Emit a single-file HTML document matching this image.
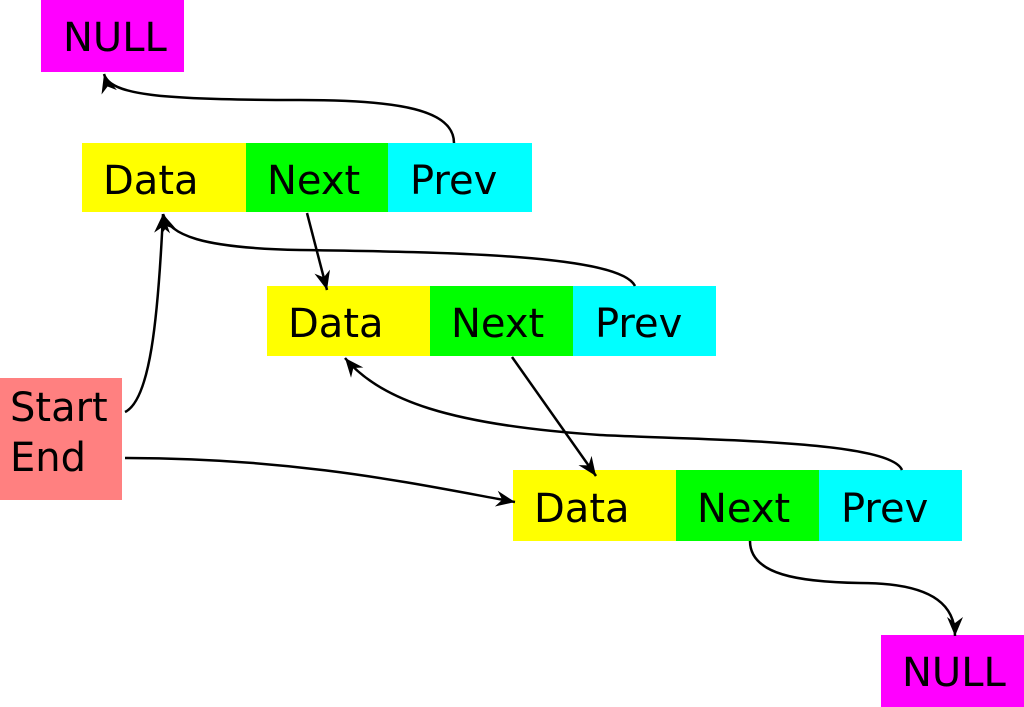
<!DOCTYPE html>
<html><head><meta charset="utf-8"><style>
body{margin:0;width:1024px;height:707px;background:#fff;overflow:hidden;position:relative;font-family:"DejaVu Sans","Liberation Sans",sans-serif}
.b{position:absolute;font-size:40px;line-height:1;color:#000;box-sizing:border-box;white-space:nowrap}
</style></head><body>
<div class="b" style="left:41px;top:0;width:143px;height:72px;background:#f0f;padding:18px 0 0 22px">NULL</div>
<div class="b" style="left:82px;top:143px;width:164px;height:69px;background:#ff0;padding:18px 0 0 21px">Data</div>
<div class="b" style="left:246px;top:143px;width:142px;height:69px;background:#0f0;padding:18px 0 0 21px">Next</div>
<div class="b" style="left:388px;top:143px;width:144px;height:69px;background:#0ff;padding:18px 0 0 22px">Prev</div>
<div class="b" style="left:267px;top:286px;width:163px;height:70px;background:#ff0;padding:18px 0 0 21px">Data</div>
<div class="b" style="left:430px;top:286px;width:143px;height:70px;background:#0f0;padding:18px 0 0 21px">Next</div>
<div class="b" style="left:573px;top:286px;width:143px;height:70px;background:#0ff;padding:18px 0 0 22px">Prev</div>
<div class="b" style="left:513px;top:470px;width:163px;height:71px;background:#ff0;padding:19px 0 0 21px">Data</div>
<div class="b" style="left:676px;top:470px;width:143px;height:71px;background:#0f0;padding:19px 0 0 21px">Next</div>
<div class="b" style="left:819px;top:470px;width:143px;height:71px;background:#0ff;padding:19px 0 0 22px">Prev</div>
<div class="b" style="left:0;top:378px;width:122px;height:122px;background:#ff8080;padding:5px 0 0 10px;line-height:50px">Start<br>End</div>
<div class="b" style="left:881px;top:635px;width:143px;height:72px;background:#f0f;padding:18px 0 0 21px">NULL</div>
<svg style="position:absolute;left:0;top:0" width="1024" height="707">
<defs><marker id="a" viewBox="-20 -10 22 20" refX="0" refY="0" markerWidth="22" markerHeight="20" orient="auto" markerUnits="userSpaceOnUse"><path d="M0,0 L-19,-8 L-13,0 L-19,8 Z" fill="#000"/></marker></defs>
<g fill="none" stroke="#000" stroke-width="2.5" marker-end="url(#a)">
<path d="M454,143 C454,110 400,100 300,100 C160,100 110,95 104,74"/>
<path d="M307,213 L327,290"/>
<path d="M635,286 C620,255 450,252 300,250 C200,248 170,235 163,214"/>
<path d="M125,412 C150,400 158,320 163,214"/>
<path d="M512,357 L596,476"/>
<path d="M902,470 C890,440 700,440 600,435 C450,425 380,400 345,358"/>
<path d="M125,458 C300,458 420,485 515,502"/>
<path d="M750,541 C750,575 800,582 860,583 C940,583 955,610 955,636"/>
</g></svg>
</body></html>
